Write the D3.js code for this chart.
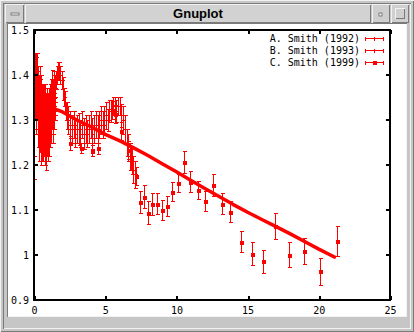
<!DOCTYPE html>
<html><head><meta charset="utf-8">
<script src="https://cdn.jsdelivr.net/npm/d3@7"></script>
<style>html,body{margin:0;padding:0;background:#c6c6c6;overflow:hidden}svg{display:block}</style>
</head><body>
<svg id="c" width="414" height="332"></svg>
<script>
// ---------- data ----------
const windowTitle = "Gnuplot";
const xTicks = [0, 5, 10, 15, 20, 25];
const yTicks = [0.9, 1.0, 1.1, 1.2, 1.3, 1.4, 1.5];
const seriesNames = ["A. Smith (1992)", "B. Smith (1993)", "C. Smith (1999)"];

// A. Smith (1992)
const aX   = [0.000,0.025,0.050,0.075,0.100,0.125,0.150,0.175,0.200,0.225,0.250,0.275,0.300,0.325,0.350,0.375,0.400,0.425,0.450,0.475,0.500,0.525,0.550,0.575,0.600,0.625,0.650,0.675,0.700,0.725,0.750,0.775,0.800,0.825,0.850,0.875,0.900,0.925,0.950,0.975,1.000,1.025,1.050,1.075,1.100,1.125,1.150,1.175,1.200,1.225,1.250,1.275,1.300,1.325,1.350,1.375,1.400,1.425,1.450,1.475,1.500];
const aY   = [1.22,1.28,1.35,1.41,1.38,1.33,1.42,1.39,1.36,1.41,1.30,1.37,1.33,1.27,1.35,1.31,1.38,1.29,1.34,1.26,1.32,1.36,1.28,1.33,1.30,1.35,1.27,1.31,1.29,1.34,1.26,1.32,1.35,1.28,1.31,1.25,1.33,1.29,1.31,1.27,1.32,1.29,1.33,1.28,1.30,1.34,1.29,1.31,1.35,1.30,1.33,1.37,1.32,1.35,1.30,1.36,1.33,1.38,1.34,1.37,1.35];
const aErr = [0.05,0.06,0.05,0.04,0.05,0.06,0.03,0.05,0.06,0.04,0.06,0.05,0.05,0.06,0.05,0.06,0.04,0.06,0.05,0.06,0.05,0.04,0.07,0.05,0.06,0.03,0.06,0.05,0.07,0.04,0.06,0.05,0.03,0.06,0.05,0.06,0.04,0.07,0.05,0.06,0.04,0.05,0.04,0.06,0.05,0.04,0.05,0.06,0.04,0.05,0.05,0.04,0.05,0.04,0.05,0.04,0.05,0.03,0.04,0.03,0.04];

// B. Smith (1993)
const bX   = [1.55,1.62,1.70,1.78,1.86,1.94,2.02,2.10,2.18,2.26,2.34,2.42,2.54,2.66,2.78,2.90,3.02,3.14,3.26,3.38,3.50,3.62,3.74,3.86,3.98,4.10,4.22,4.34,4.46,4.58,4.70,4.82,4.94,5.06,5.18,5.30,5.42,5.54,5.66,5.78,5.90,6.02,6.14,6.26,6.38,6.50,6.62,6.74,6.86,6.98,7.10];
const bY   = [1.39,1.40,1.41,1.41,1.40,1.39,1.37,1.35,1.34,1.32,1.31,1.30,1.29,1.28,1.29,1.27,1.28,1.28,1.27,1.29,1.27,1.28,1.27,1.28,1.29,1.27,1.28,1.29,1.28,1.29,1.30,1.29,1.30,1.31,1.30,1.32,1.32,1.33,1.33,1.32,1.33,1.33,1.31,1.30,1.28,1.25,1.24,1.22,1.21,1.19,1.18];
const bErr = [0.02,0.02,0.02,0.02,0.02,0.02,0.025,0.02,0.025,0.02,0.03,0.03,0.03,0.03,0.03,0.03,0.03,0.035,0.03,0.03,0.035,0.03,0.03,0.03,0.03,0.035,0.03,0.03,0.03,0.03,0.03,0.03,0.03,0.03,0.025,0.025,0.025,0.02,0.02,0.025,0.02,0.02,0.025,0.03,0.03,0.03,0.03,0.03,0.03,0.03,0.03];

// C. Smith (1999)
const cX   = [2.52,3.29,4.04,4.50,5.51,5.67,6.14,6.60,6.84,7.14,7.42,7.73,8.00,8.29,8.64,8.99,9.34,9.69,10.11,10.53,10.99,11.50,11.99,12.55,13.18,13.79,14.52,15.29,16.07,16.95,17.88,18.93,20.05,21.31];
const cY   = [1.249,1.238,1.232,1.237,1.323,1.313,1.276,1.234,1.214,1.175,1.118,1.130,1.094,1.113,1.114,1.100,1.108,1.141,1.161,1.207,1.163,1.145,1.120,1.155,1.114,1.096,1.030,1.003,0.986,1.065,1.001,1.008,0.964,1.031];
const cErr = [0.015,0.012,0.012,0.012,0.02,0.02,0.02,0.02,0.025,0.02,0.025,0.025,0.025,0.025,0.023,0.023,0.022,0.022,0.02,0.024,0.023,0.02,0.023,0.024,0.024,0.023,0.023,0.025,0.025,0.029,0.028,0.029,0.03,0.033];
// dense C curve (drawn as thick trace)
const cLineX = [0,1,2,3,4,5,6,7,8,9,10,11,12,13,14,15,16,17,18,19,20,21.2];
const cLineY = [1.338,1.330,1.318,1.300,1.285,1.268,1.254,1.238,1.221,1.203,1.185,1.166,1.148,1.130,1.112,1.095,1.079,1.063,1.047,1.030,1.013,0.994];

// ---------- drawing ----------
const W = 414, H = 332;
const svg = d3.select("#c");
const RED = "#ff0000";
const FACE = "#c6c6c6", LIGHT = "#f2f2f2", DARK = "#7a7a7a";

function bevel(x, y, w, h, raised, fill) {
  if (fill) svg.append("rect").attr("x", x).attr("y", y).attr("width", w).attr("height", h).attr("fill", fill);
  const tl = raised ? LIGHT : DARK, br = raised ? DARK : LIGHT;
  svg.append("path").attr("d", `M${x+0.5},${y+h-0.5}V${y+0.5}H${x+w-0.5}`).attr("fill","none").attr("stroke", tl).attr("shape-rendering","crispEdges");
  svg.append("path").attr("d", `M${x+0.5},${y+h-0.5}H${x+w-0.5}V${y+0.5}`).attr("fill","none").attr("stroke", br).attr("shape-rendering","crispEdges");
}

// window frame
svg.append("rect").attr("width", W).attr("height", H).attr("fill", FACE);
bevel(0, 0, W, H, true);
bevel(3, 3, W-6, H-6, false);
// title bar
bevel(5, 4, 19, 19, true, "#cfcfcf");
svg.append("rect").attr("x", 11).attr("y", 13).attr("width", 8).attr("height", 2).attr("fill", "#f2f2f2").attr("stroke", "#6a6a6a").attr("stroke-width", 0.8);
bevel(25, 4, 346, 19, true, "#d2d2d2");
bevel(372, 4, 18, 19, true, "#cfcfcf");
svg.append("rect").attr("x", 379).attr("y", 13).attr("width", 3).attr("height", 3).attr("fill", "#f2f2f2").attr("stroke", "#6a6a6a").attr("stroke-width", 0.8);
bevel(391, 4, 18, 19, true, "#cfcfcf");
bevel(395, 8, 10, 11, true);
svg.append("text").attr("x", 198).attr("y", 18).attr("text-anchor", "middle")
  .attr("font-family", "'Liberation Sans', Arial, sans-serif").attr("font-weight", "bold").attr("font-size", 13)
  .attr("fill", "#000").text(windowTitle);
// client area
svg.append("rect").attr("x", 8).attr("y", 24).attr("width", 398).attr("height", 292).attr("fill", "#fff");
bevel(7, 23, 400, 294, false);

// plot
const x = d3.scaleLinear().domain([0, 25]).range([34, 390]);
const y = d3.scaleLinear().domain([0.9, 1.5]).range([300, 30]);
const FONT = "'DejaVu Sans Mono', 'Liberation Mono', monospace";

const plot = svg.append("g");
const clipId = "pc";
svg.append("clipPath").attr("id", clipId).append("rect").attr("x", 33).attr("y", 30).attr("width", 357).attr("height", 270);

const dataG = plot.append("g").attr("clip-path", `url(#${clipId})`);

function errorbars(xs, ys, es, marker) {
  const g = dataG.append("g").attr("stroke", RED).attr("fill", "none").attr("shape-rendering", "crispEdges");
  xs.forEach((xv, i) => {
    const px = Math.round(x(xv)) + 0.5;
    const y1 = Math.round(y(ys[i] + es[i])) + 0.5, y2 = Math.round(y(ys[i] - es[i])) + 0.5;
    g.append("path").attr("d", `M${px},${y1}V${y2}M${px-2},${y1}H${px+2}M${px-2},${y2}H${px+2}`);
    const py = Math.round(y(ys[i]));
    if (marker === "square") {
      dataG.append("rect").attr("x", px - 2).attr("y", py - 1.5).attr("width", 4).attr("height", 4).attr("fill", RED).attr("shape-rendering", "crispEdges");
    } else {
      g.append("path").attr("d", `M${px-2},${py+0.5}H${px+2}`);
    }
  });
}
errorbars(aX, aY, aErr, "plus");
errorbars(bX, bY, bErr, "plus");
// dense C trace
dataG.append("path")
  .attr("d", d3.line().x(d => x(d[0])).y(d => y(d[1]))(cLineX.map((v, i) => [v, cLineY[i]])))
  .attr("fill", "none").attr("stroke", RED).attr("stroke-width", 3.5).attr("stroke-linejoin", "round");
errorbars(cX, cY, cErr, "square");

// axes: ticks inward on all four sides
const axG = plot.append("g").attr("stroke", "#000").attr("shape-rendering", "crispEdges");
xTicks.forEach(t => {
  const px = Math.round(x(t)) + 0.5;
  axG.append("path").attr("d", `M${px},300V296M${px},30V34`).attr("stroke-width", 2);
});
yTicks.forEach(t => {
  const py = Math.round(y(t));
  axG.append("path").attr("d", `M34,${py}H38M390,${py}H386`).attr("stroke-width", 2);
});
axG.append("rect").attr("x", 34).attr("y", 30).attr("width", 356).attr("height", 270)
  .attr("fill", "none").attr("stroke-width", 2);

// tick labels via d3 axes (lines hidden)
const fmtY = d => (d === 1 ? "1" : d3.format(".1f")(d));
const yAxis = plot.append("g").attr("transform", "translate(34,0)")
  .call(d3.axisLeft(y).tickValues(yTicks).tickFormat(fmtY).tickSize(0).tickPadding(5));
const xAxis = plot.append("g").attr("transform", "translate(0,300)")
  .call(d3.axisBottom(x).tickValues(xTicks).tickFormat(d3.format("d")).tickSize(0).tickPadding(7));
[yAxis, xAxis].forEach(a => {
  a.select(".domain").remove();
  a.selectAll("text").attr("font-family", FONT).attr("font-size", 10).attr("fill", "#000");
});

// legend
const lg = plot.append("g");
seriesNames.forEach((name, i) => {
  const ly = 38 + i * 12;
  lg.append("text").attr("x", 360).attr("y", ly + 4).attr("text-anchor", "end")
    .attr("font-family", FONT).attr("font-size", 10).attr("fill", "#000").text(name);
  lg.append("path").attr("d", `M365,${ly+0.5}H384M365.5,${ly-1.5}V${ly+2.5}M383.5,${ly-1.5}V${ly+2.5}`)
    .attr("stroke", RED).attr("fill", "none").attr("shape-rendering", "crispEdges");
  if (i === 2) {
    lg.append("rect").attr("x", 373).attr("y", ly - 1).attr("width", 4).attr("height", 4).attr("fill", RED);
  } else {
    lg.append("path").attr("d", `M374.5,${ly-1.5}V${ly+2.5}`).attr("stroke", RED).attr("shape-rendering", "crispEdges");
  }
});
</script>
</body></html>
